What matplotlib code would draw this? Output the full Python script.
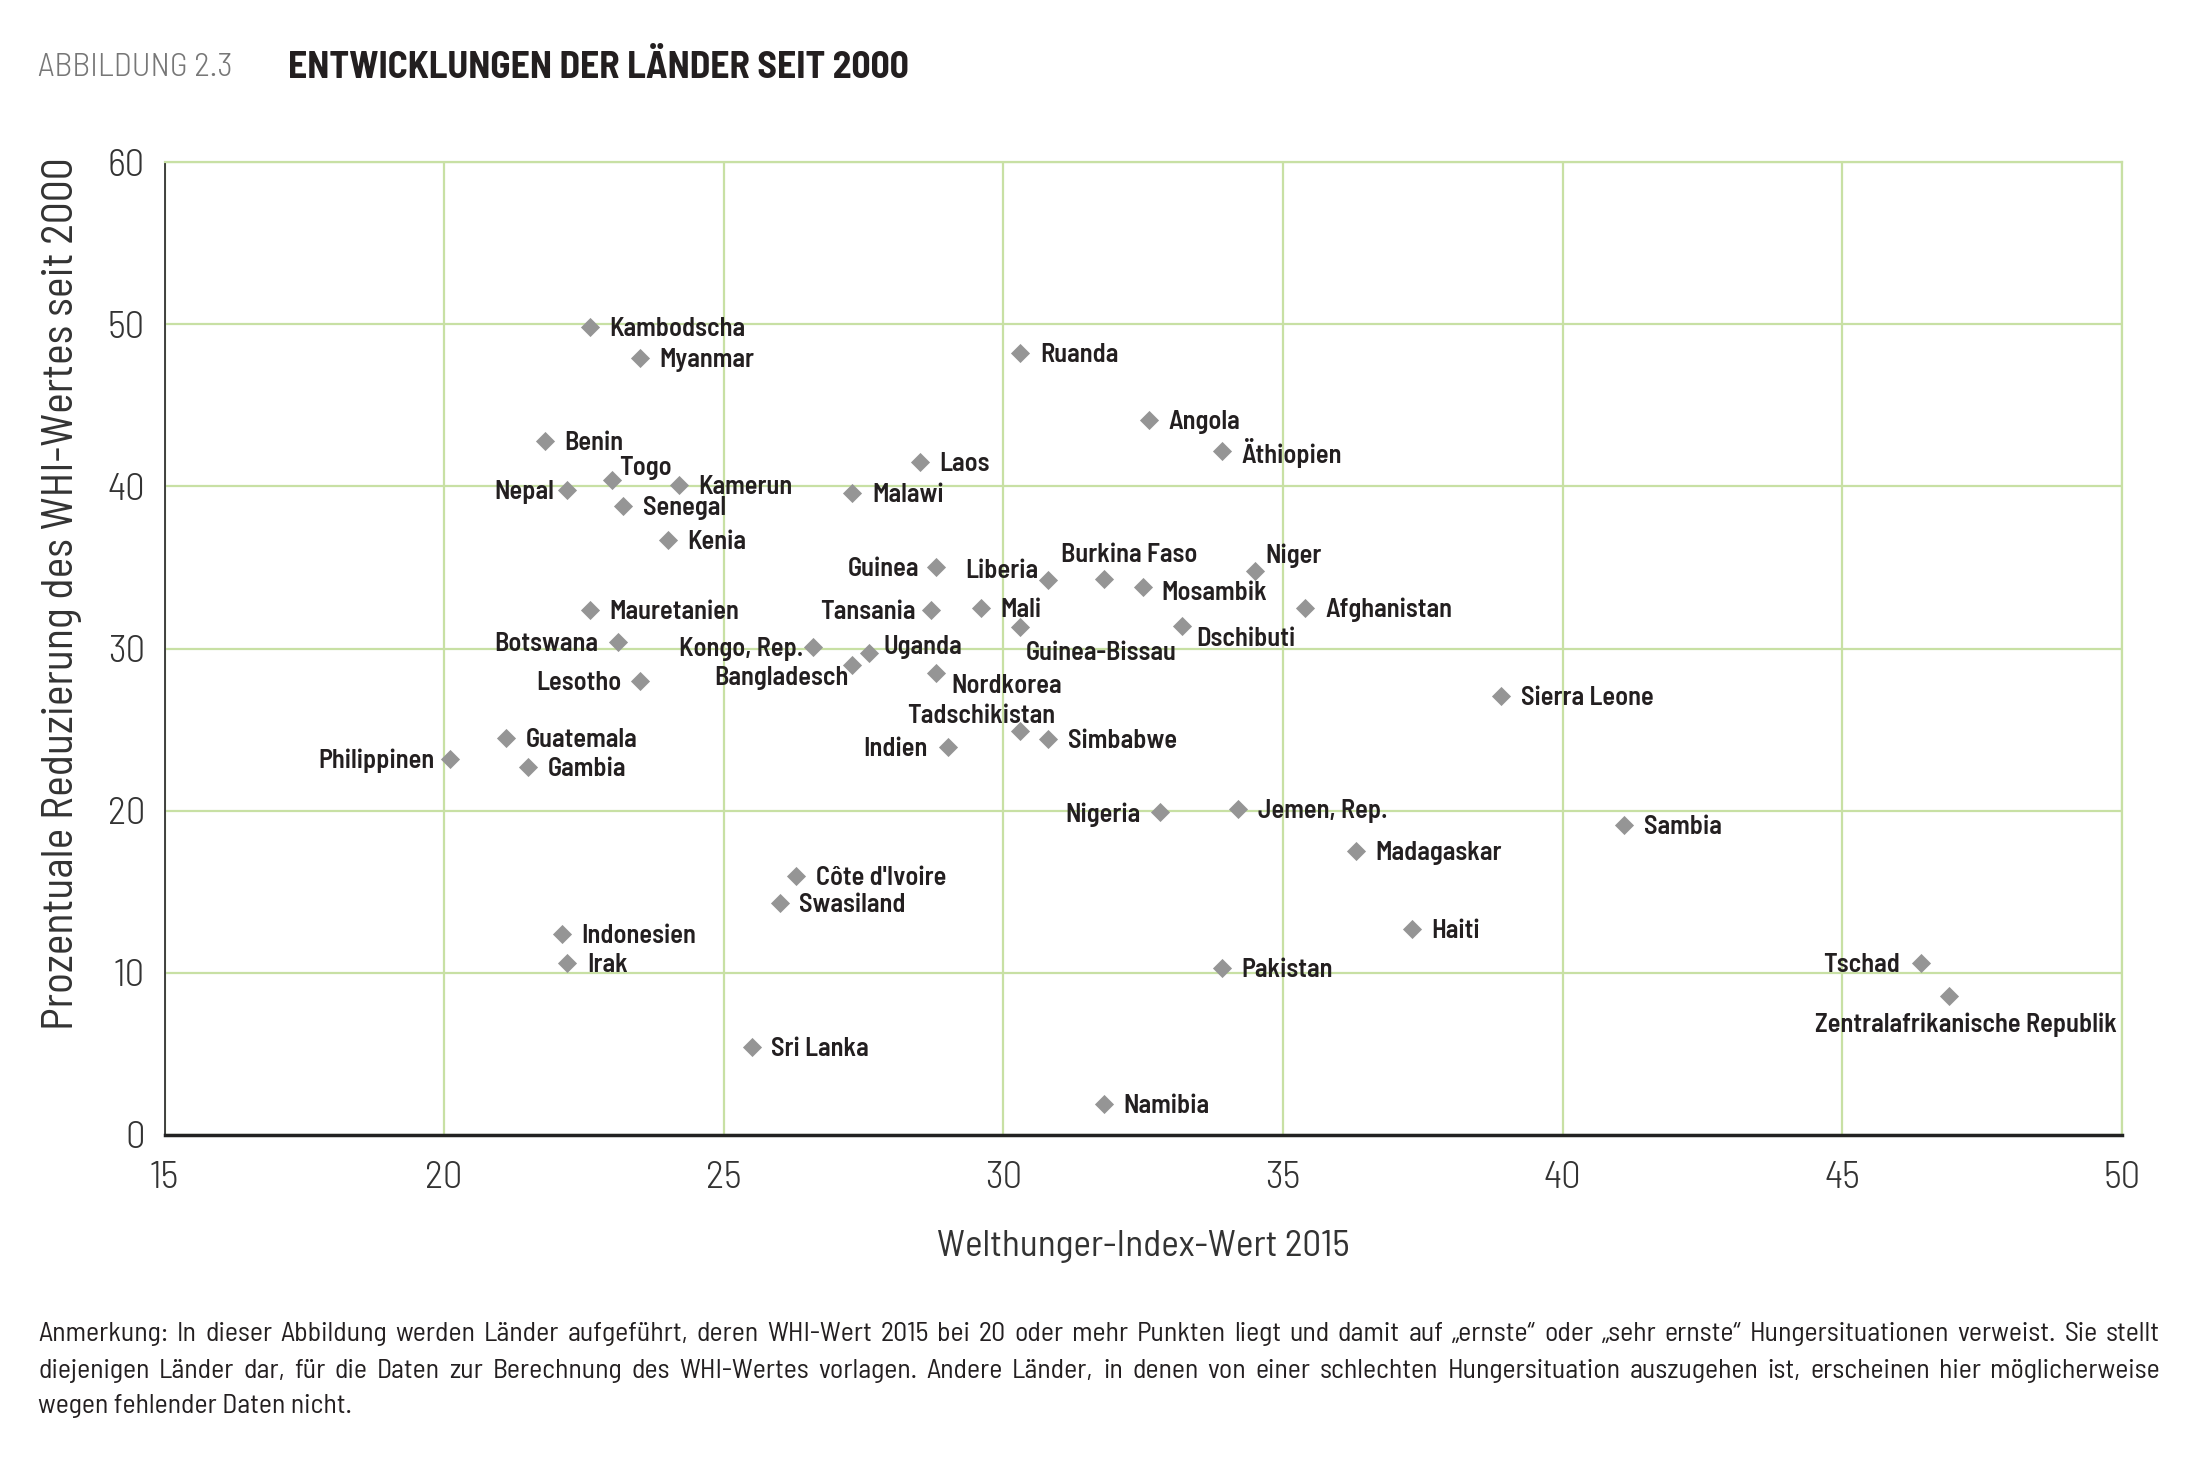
import matplotlib
matplotlib.use("Agg")
import matplotlib.pyplot as plt

# Welthunger-Index 2015 vs. prozentuale Reduzierung seit 2000
countries = ["Kambodscha", "Myanmar", "Benin", "Togo", "Nepal", "Kamerun", "Senegal", "Kenia",
             "Laos", "Malawi", "Ruanda", "Angola", "Äthiopien", "Guinea", "Liberia", "Burkina Faso",
             "Mosambik", "Niger", "Afghanistan", "Mali", "Tansania", "Guinea-Bissau", "Dschibuti",
             "Mauretanien", "Botswana", "Kongo, Rep.", "Uganda", "Bangladesch", "Nordkorea", "Lesotho",
             "Tadschikistan", "Simbabwe", "Indien", "Sierra Leone", "Guatemala", "Philippinen", "Gambia",
             "Nigeria", "Jemen, Rep.", "Sambia", "Madagaskar", "Côte d'Ivoire", "Swasiland",
             "Indonesien", "Irak", "Haiti", "Pakistan", "Tschad", "Zentralafrikanische Republik",
             "Sri Lanka", "Namibia"]
whi_2015 = [22.6, 23.5, 21.8, 23.0, 22.2, 24.2, 23.2, 24.0,
            28.5, 27.3, 30.3, 32.6, 33.9, 28.8, 30.8, 31.8,
            32.5, 34.5, 35.4, 29.6, 28.7, 30.3, 33.2,
            22.6, 23.1, 26.6, 27.6, 27.3, 28.8, 23.5,
            30.3, 30.8, 29.0, 38.9, 21.1, 20.1, 21.5,
            32.8, 34.2, 41.1, 36.3, 26.3, 26.0,
            22.1, 22.2, 37.3, 33.9, 46.4, 46.9,
            25.5, 31.8]
reduction = [49.8, 47.9, 42.8, 40.4, 39.8, 40.1, 38.8, 36.7,
             41.5, 39.6, 48.2, 44.1, 42.2, 35.0, 34.2, 34.3,
             33.8, 34.8, 32.5, 32.5, 32.4, 31.3, 31.4,
             32.4, 30.4, 30.1, 29.7, 29.0, 28.5, 28.0,
             24.9, 24.4, 23.9, 27.1, 24.5, 23.2, 22.7,
             19.9, 20.1, 19.1, 17.5, 16.0, 14.3,
             12.4, 10.6, 12.7, 10.3, 10.6, 8.6,
             5.4, 1.9]

# label placement: (dx, dy, ha) in pixels of a 1568-wide view, dy downwards
label_pos = {
    "Togo": (5, -10, "left"), "Nepal": (-9, 0, "right"), "Guinea": (-12, 0, "right"),
    "Liberia": (-7, -8, "right"), "Burkina Faso": (18, -18, "center"), "Mosambik": (13, 3, "left"),
    "Niger": (7, -12, "left"), "Tansania": (-11, 0, "right"), "Guinea-Bissau": (4, 17, "left"),
    "Dschibuti": (10, 8, "left"), "Botswana": (-14, 0, "right"), "Kongo, Rep.": (-7, 0, "right"),
    "Uganda": (10, -6, "left"), "Bangladesch": (-3, 8, "right"), "Nordkorea": (11, 8, "left"),
    "Lesotho": (-13, 0, "right"), "Tadschikistan": (-28, -12, "center"), "Indien": (-14, 0, "right"),
    "Philippinen": (-11, 0, "right"), "Nigeria": (-14, 0, "right"), "Tschad": (-15, 0, "right"),
    "Zentralafrikanische Republik": (12, 19, "center"),
}

NARROW = ["Barlow Semi Condensed", "DejaVu Sans"]
W, H = 2205, 1459
S = W / 1568

fig = plt.figure(figsize=(W / 100, H / 100), dpi=100)
ax = fig.add_axes([164.5 / W, 1 - 1135 / H, (2122 - 164.5) / W, (1135 - 162) / H])

grid_col = "#c8e0a4"
ax.set_xlim(15, 50)
ax.set_ylim(0, 60)
ax.set_xticks(range(15, 51, 5))
ax.set_yticks(range(0, 61, 10))
ax.grid(True, color=grid_col, linewidth=1.6)
ax.set_axisbelow(True)
for side in ["top", "right"]:
    ax.spines[side].set_color(grid_col)
    ax.spines[side].set_linewidth(1.6)
ax.spines["left"].set_color("#333333")
ax.spines["left"].set_linewidth(1.3)
ax.spines["bottom"].set_color("#222222")
ax.spines["bottom"].set_linewidth(2.5)
ax.tick_params(length=0, labelsize=28, labelcolor="#333333")
ax.tick_params(axis="x", pad=19)
ax.tick_params(axis="y", pad=14)
for t in ax.get_xticklabels() + ax.get_yticklabels():
    t.set_family(NARROW)
    t.set_fontweight(300)

ax.scatter(whi_2015, reduction, marker="D", s=95, color="#959595", zorder=3, linewidths=0)

for name, xv, yv in zip(countries, whi_2015, reduction):
    dx, dy, ha = label_pos.get(name, (14, 0, "left"))
    ax.annotate(name, (xv, yv), xytext=(dx * S, -dy * S - 2), textcoords="offset pixels",
                ha=ha, va="center", fontsize=19, fontweight=600, color="#231f20",
                family=NARROW, zorder=4)

ax.set_xlabel("Welthunger-Index-Wert 2015", fontsize=26.8, color="#333333", family=NARROW,
              fontweight=400, labelpad=24)
ax.set_ylabel("Prozentuale Reduzierung des WHI-Wertes seit 2000", fontsize=31.5, color="#333333",
              family=NARROW, fontweight=400, labelpad=18)
ax.yaxis.label.set_y(0.556)

fig.text(38 / W, 1 - 68 / H, "ABBILDUNG 2.3", fontsize=24, color="#777777", family=NARROW,
         fontweight=300, va="center", ha="left")
fig.text(288 / W, 1 - 68 / H, "ENTWICKLUNGEN DER LÄNDER SEIT 2000", fontsize=27, fontweight=700,
         color="#231f20", family=NARROW, va="center", ha="left")

# footnote, first two lines justified
note_lines = [
    "Anmerkung: In dieser Abbildung werden Länder aufgeführt, deren WHI-Wert 2015 bei 20 oder mehr Punkten liegt und damit auf „ernste“ oder „sehr ernste“ Hungersituationen verweist. Sie stellt",
    "diejenigen Länder dar, für die Daten zur Berechnung des WHI-Wertes vorlagen. Andere Länder, in denen von einer schlechten Hungersituation auszugehen ist, erscheinen hier möglicherweise",
    "wegen fehlender Daten nicht.",
]
note_y = [1334, 1371, 1406]
x0, x1 = 38, 2160
renderer = fig.canvas.get_renderer()
for i, (line, yy) in enumerate(zip(note_lines, note_y)):
    kw = dict(fontsize=20, color="#231f20", family=NARROW, fontweight=400, va="center", ha="left")
    if i == len(note_lines) - 1:
        fig.text(x0 / W, 1 - yy / H, line, **kw)
        continue
    words = line.split(" ")
    texts = [fig.text(0, 1 - yy / H, w, **kw) for w in words]
    widths = [t.get_window_extent(renderer).width for t in texts]
    gap = (x1 - x0 - sum(widths)) / (len(words) - 1)
    xp = x0
    for t, wd in zip(texts, widths):
        t.set_x(xp / W)
        xp += wd + gap

fig.savefig("out.png", dpi=100)
